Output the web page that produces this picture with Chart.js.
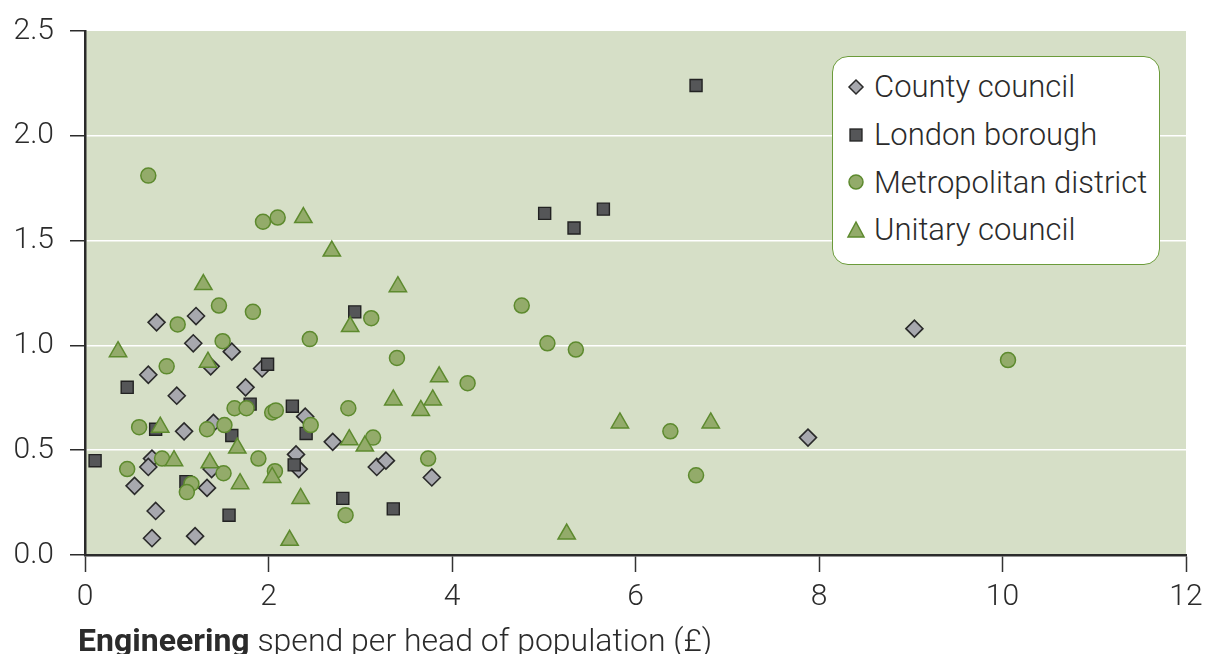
<!DOCTYPE html>
<html>
<head>
<meta charset="utf-8">
<script src="https://cdn.jsdelivr.net/npm/chart.js@4/dist/chart.umd.min.js"></script>
<style>
  body{ margin:0; background:#fff; }
  #wrap{ position:relative; width:1208px; height:654px; font-family:Roboto, "Liberation Sans", sans-serif; color:#2b2b2b; }
  #legend{ position:absolute; left:832px; top:56px; width:328px; height:209px; background:#fff;
    border:1.5px solid #6b9b3a; border-radius:16px; box-sizing:border-box; padding-top:6px; }
  #legend .row{ height:47.7px; display:flex; align-items:center; font-size:31px; font-weight:300; }
  #legend svg{ width:24px; height:24px; margin-left:11px; margin-right:6px; }
  #xtitle{ position:absolute; left:78px; top:624px; font-size:32px; line-height:1; font-weight:300; white-space:nowrap; }
  #xtitle b{ font-weight:700; }
</style>
</head>
<body>
<div id="wrap">
  <canvas id="chart" width="1208" height="654"></canvas>
  <div id="legend">
    <div class="row"><svg viewBox="0 0 24 24"><path d="M12 5 L19 12 L12 19 L5 12 Z" fill="#a7a8ae" stroke="#2a2a2a" stroke-width="1.5"/></svg>County council</div>
    <div class="row"><svg viewBox="0 0 24 24"><rect x="6" y="6" width="12" height="12" fill="#555658" stroke="#222" stroke-width="1.3"/></svg>London borough</div>
    <div class="row"><svg viewBox="0 0 24 24"><circle cx="12" cy="12" r="7" fill="#93ab6a" stroke="#5d8a2e" stroke-width="1.5"/></svg>Metropolitan district</div>
    <div class="row"><svg viewBox="0 0 24 24"><path d="M12 4 L20 19 L4 19 Z" fill="#93ab6a" stroke="#5d8a2e" stroke-width="1.5"/></svg>Unitary council</div>
  </div>
  <div id="xtitle"><b>Engineering</b> spend per head of population (£)</div>
</div>
<script>
// values
const countyX = [0.78,1.21,1.18,1.60,0.69,1.00,1.37,1.93,1.75,1.40,1.08,2.40,2.70,2.30,2.33,3.18,3.28,3.78,0.73,0.69,0.54,1.33,0.77,0.73,1.20,7.88,9.04,1.38];
const countyY = [1.11,1.14,1.01,0.97,0.86,0.76,0.90,0.89,0.80,0.63,0.59,0.66,0.54,0.48,0.41,0.42,0.45,0.37,0.46,0.42,0.33,0.32,0.21,0.08,0.09,0.56,1.08,0.41];

const londonX = [0.11,0.46,0.77,1.10,1.57,1.60,1.80,1.99,2.26,2.28,2.41,2.81,2.94,3.36,5.01,5.33,5.65,6.66];
const londonY = [0.45,0.80,0.60,0.35,0.19,0.57,0.72,0.91,0.71,0.43,0.58,0.27,1.16,0.22,1.63,1.56,1.65,2.24];

const metroX = [0.69,1.94,2.10,1.46,1.83,1.01,3.12,1.50,2.45,0.89,3.40,4.17,2.87,2.46,3.14,3.74,2.84,0.59,1.63,1.76,2.04,2.08,1.33,1.52,0.84,0.46,1.89,1.51,2.07,1.16,1.11,4.76,5.04,5.35,6.38,6.66,10.06];
const metroY = [1.81,1.59,1.61,1.19,1.16,1.10,1.13,1.02,1.03,0.90,0.94,0.82,0.70,0.62,0.56,0.46,0.19,0.61,0.70,0.70,0.68,0.69,0.60,0.62,0.46,0.41,0.46,0.39,0.40,0.34,0.30,1.19,1.01,0.98,0.59,0.38,0.93];

const unitaryX = [2.38,2.69,1.29,3.41,2.89,0.36,1.34,3.86,3.36,3.79,3.66,2.88,3.05,0.82,1.66,0.97,1.36,1.69,2.04,2.35,2.23,5.25,5.83,6.82];
const unitaryY = [1.61,1.45,1.29,1.28,1.09,0.97,0.92,0.85,0.74,0.74,0.69,0.55,0.52,0.61,0.51,0.45,0.44,0.34,0.37,0.27,0.07,0.10,0.63,0.63];

const xTicks = [0,2,4,6,8,10,12];
const yTicks = [0,0.5,1,1.5,2,2.5];

function pts(xs, ys){ return xs.map((x,i)=>({x, y: ys[i]})); }

const plotBg = {
  id:'plotBg',
  beforeDraw(chart){
    const a = chart.chartArea, ctx = chart.ctx;
    ctx.save();
    ctx.fillStyle = '#d6dfc7';
    ctx.fillRect(a.left, a.top, a.right - a.left, a.bottom - a.top);
    ctx.restore();
  }
};

const tickFont = { family:'Roboto, "Liberation Sans", sans-serif', size:30, weight:'300' };

new Chart(document.getElementById('chart').getContext('2d'), {
  type:'scatter',
  data:{
    datasets:[
      { label:'County council', data:pts(countyX,countyY), pointStyle:'rectRot', pointRadius:8.5,
        backgroundColor:'#a7a8ae', borderColor:'#2a2a2a', borderWidth:1.6, order:4 },
      { label:'London borough', data:pts(londonX,londonY), pointStyle:'rect', pointRadius:8.5,
        backgroundColor:'#555658', borderColor:'#222', borderWidth:1.4, order:3 },
      { label:'Metropolitan district', data:pts(metroX,metroY), pointStyle:'circle', pointRadius:7.5,
        backgroundColor:'#93ab6a', borderColor:'#5d8a2e', borderWidth:1.5, order:2 },
      { label:'Unitary council', data:pts(unitaryX,unitaryY), pointStyle:'triangle', pointRadius:10,
        backgroundColor:'#93ab6a', borderColor:'#5d8a2e', borderWidth:1.5, order:1 }
    ]
  },
  options:{
    responsive:false,
    animation:false,
    devicePixelRatio:1,
    layout:{ padding:{ top:31, right:22, left:0, bottom:0 } },
    plugins:{ legend:{ display:false }, tooltip:{ enabled:false } },
    elements:{ point:{ hoverRadius:8 } },
    scales:{
      x:{
        type:'linear', min:0, max:12,
        afterBuildTicks(s){ s.ticks = xTicks.map(v=>({value:v})); },
        afterFit(s){ s.height = 99; s.paddingLeft = 0; s.paddingRight = 0; },
        grid:{ drawOnChartArea:false, color:'#333', tickLength:17, tickWidth:1.5 },
        border:{ color:'#2b2b2b', width:2.5 },
        ticks:{ color:'#2b2b2b', font:tickFont, padding:7, maxRotation:0 }
      },
      y:{
        type:'linear', min:0, max:2.5,
        afterBuildTicks(s){ s.ticks = yTicks.map(v=>({value:v})); },
        afterFit(s){ s.width = 85; s.paddingTop = 0; s.paddingBottom = 0; },
        grid:{ color:ctx => (ctx.tick && ctx.tick.value === 2.5) ? 'rgba(0,0,0,0)' : '#ffffff',
               lineWidth:1.5, tickColor:'#2b2b2b', tickLength:15, tickWidth:1.5 },
        border:{ color:'#2b2b2b', width:2.5 },
        ticks:{ color:'#2b2b2b', font:tickFont, padding:16, callback:v => Number(v).toFixed(1) }
      }
    }
  },
  plugins:[plotBg]
});
</script>
</body>
</html>
